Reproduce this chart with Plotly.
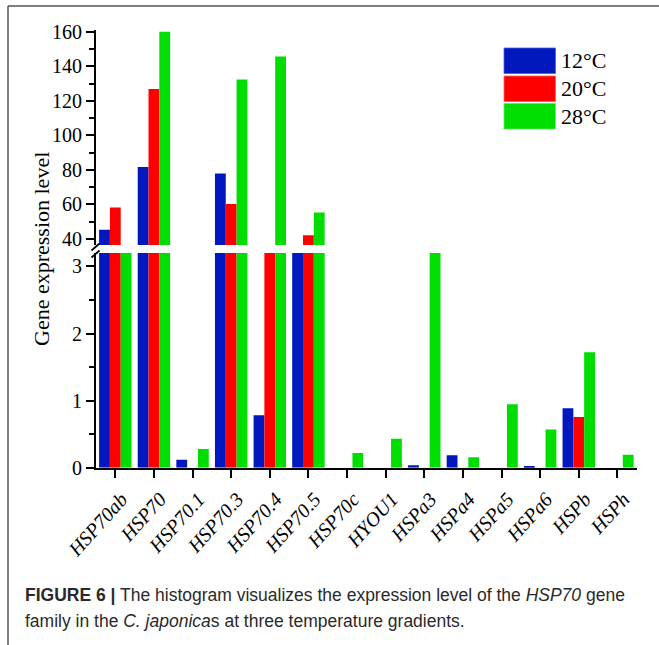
import plotly.graph_objects as go

# ---- data ----
genes = ["HSP70ab", "HSP70", "HSP70.1", "HSP70.3", "HSP70.4", "HSP70.5", "HSP70c",
         "HYOU1", "HSPa3", "HSPa4", "HSPa5", "HSPa6", "HSPb", "HSPh"]
series_names = ["12\u00b0C", "20\u00b0C", "28\u00b0C"]
# values between 3.2 and ~36 fall into the axis break (not readable; estimated)
v12 = [45.4, 81.6, 0.12, 77.9, 0.78, 20.0, 0, 0, 0.035, 0.185, 0, 0.02, 0.887, 0]
v20 = [58.2, 126.8, 0, 60.3, 25.0, 42.1, 0, 0, 0, 0, 0, 0, 0.757, 0]
v28 = [30.0, 160.0, 0.28, 132.4, 145.7, 55.3, 0.22, 0.43, 10.0, 0.155, 0.946, 0.57, 1.72, 0.194]
colors = ["#0018BE", "#FF0000", "#00DD00"]
edge = ["#4A60E0", "#FF6060", "#60F060"]
low_ticks = [0, 1, 2, 3]
high_ticks = [40, 60, 80, 100, 120, 140, 160]

W, H = 659, 645
def px(x):
    return x / W
def py(y):
    return 1 - y / H

X0, X1 = 96, 636.7
LOW_TOP, LOW_BOT = 253, 467.7
HIGH_TOP, HIGH_BOT = 30, 245

fig = go.Figure()
for vals, name, c in zip([v12, v20, v28], series_names, colors):
    for xa, ya in (("x", "y"), ("x2", "y2")):
        fig.add_trace(go.Bar(x=genes, y=vals, name=name, xaxis=xa, yaxis=ya,
                             marker=dict(color=c, line=dict(width=0)),
                             showlegend=False))

serif = "Liberation Serif, Times New Roman, serif"
axis_common = dict(showline=True, linecolor="black", linewidth=2, showgrid=False,
                   zeroline=False, ticks="outside", tickcolor="black", tickwidth=2,
                   automargin=False)

fig.update_layout(
    width=W, height=H, margin=dict(l=0, r=0, t=0, b=0, pad=0, autoexpand=False),
    autosize=False,
    paper_bgcolor="white", plot_bgcolor="white",
    barmode="group", bargap=0.16, bargroupgap=0,
    xaxis=dict(domain=[px(X0), px(X1)], anchor="y", type="category",
               range=[-0.5, 13.5], tickmode="array", tickvals=genes,
               ticktext=["<i>%s</i>" % g for g in genes], tickangle=-48,
               ticklen=8, ticklabelshift=6, ticklabelstandoff=2,
               tickfont=dict(family=serif, size=20, color="black"),
               **axis_common),
    xaxis2=dict(domain=[px(X0), px(X1)], anchor="y2", type="category",
                range=[-0.5, 13.5], visible=False, matches="x", automargin=False),
    yaxis=dict(domain=[py(LOW_BOT), py(LOW_TOP)], anchor="x", range=[0, 3.2],
               tickmode="array", tickvals=low_ticks, ticklen=8,
               minor=dict(dtick=0.5, tick0=0, ticks="outside", ticklen=5,
                          tickwidth=2, tickcolor="black"),
               tickfont=dict(family=serif, size=20, color="black"), **axis_common),
    yaxis2=dict(domain=[py(HIGH_BOT), py(HIGH_TOP)], anchor="x2", range=[36.5, 161],
                tickmode="array", tickvals=high_ticks, ticklen=8,
                minor=dict(dtick=10, tick0=0, ticks="outside", ticklen=5,
                           tickwidth=2, tickcolor="black"),
                tickfont=dict(family=serif, size=20, color="black"), **axis_common),
)

shapes = []
# frame
shapes.append(dict(type="line", xref="paper", yref="paper", x0=px(8), x1=px(659),
                   y0=py(6), y1=py(6), line=dict(color="#555555", width=1.5)))
shapes.append(dict(type="line", xref="paper", yref="paper", x0=px(8), x1=px(8),
                   y0=py(6), y1=py(645), line=dict(color="#555555", width=1.5)))
# break marks
for yc in (247, 254):
    shapes.append(dict(type="line", xref="paper", yref="paper",
                       x0=px(91.5), x1=px(99.5), y0=py(yc + 3.5), y1=py(yc - 3.5),
                       line=dict(color="black", width=1.8)))
# legend boxes
boxes = [(48, 73.5), (76, 101.5), (103.5, 129)]
annotations = []
for (t, b), c, e, name in zip(boxes, colors, edge, series_names):
    shapes.append(dict(type="rect", xref="paper", yref="paper", x0=px(504), x1=px(555.5),
                       y0=py(b), y1=py(t), fillcolor=c, line=dict(color=e, width=0.8)))
    annotations.append(dict(xref="paper", yref="paper", x=px(559), y=py((t + b) / 2),
                            text=name, showarrow=False, xanchor="left", yanchor="middle",
                            font=dict(family=serif, size=22, color="black")))
# y title
annotations.append(dict(xref="paper", yref="paper", x=px(41), y=py(249),
                        text="Gene expression level", textangle=-90, showarrow=False,
                        xanchor="center", yanchor="middle",
                        font=dict(family=serif, size=22, color="black")))
# caption
sans = "Liberation Sans, Arial, sans-serif"
annotations.append(dict(xref="paper", yref="paper", x=px(23), y=py(595),
                        text="<b>FIGURE 6 |</b> The histogram visualizes the expression level of the <i>HSP70</i> gene",
                        showarrow=False, xanchor="left", yanchor="middle",
                        font=dict(family=sans, size=17.5, color="#2a2a2a")))
annotations.append(dict(xref="paper", yref="paper", x=px(23), y=py(621),
                        text="family in the <i>C. japonica</i>s at three temperature gradients.",
                        showarrow=False, xanchor="left", yanchor="middle",
                        font=dict(family=sans, size=17.5, color="#2a2a2a")))

fig.update_layout(shapes=shapes, annotations=annotations)
fig.write_html("out.html")
